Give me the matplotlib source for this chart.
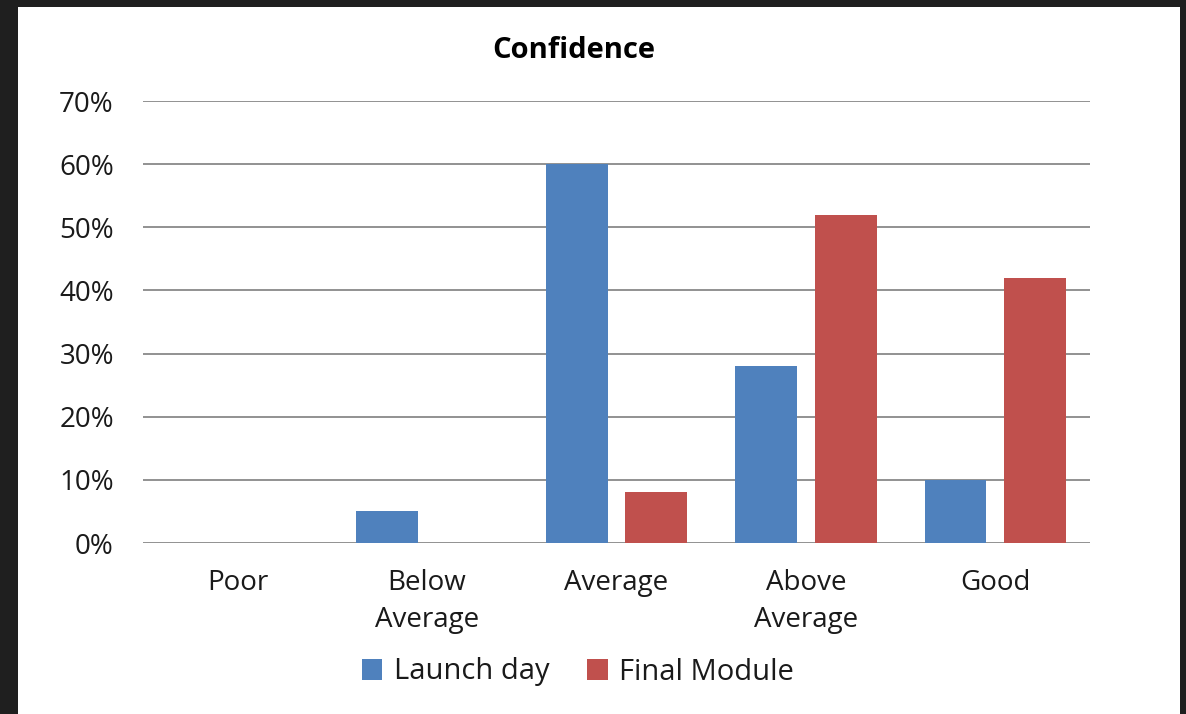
import numpy as np
import matplotlib.pyplot as plt
from matplotlib.patches import Rectangle

categories = ["Poor", "Below\nAverage", "Average", "Above\nAverage", "Good"]
launch_day = [0, 5, 60, 28, 10]
final_module = [0, 0, 8, 52, 42]
yticks = [0, 10, 20, 30, 40, 50, 60, 70]

c_blue = "#4F81BD"
c_red = "#C0504D"
grid_col = "#898989"
txt_col = "#1a1a1a"

plt.rcParams["font.family"] = ["Open Sans", "DejaVu Sans"]

W, H = 1186, 714
fig = plt.figure(figsize=(W / 100, H / 100), dpi=100, facecolor="#1f1f1f")
# white card inside the dark frame
fig.patches.append(Rectangle((18 / W, 0), (1180 - 18) / W, (H - 7) / H,
                             transform=fig.transFigure, facecolor="white",
                             edgecolor="none", zorder=0))

ax = fig.add_axes([143 / W, 1 - 543 / H, (1090 - 143) / W, (543 - 101) / H])
ax.set_zorder(5)
ax.set_facecolor("white")

x = np.arange(len(categories))
bw = 0.327
off = 0.21
ax.bar(x - off, launch_day, bw, color=c_blue, label="Launch day", zorder=3)
ax.bar(x + off, final_module, bw, color=c_red, label="Final Module", zorder=3)

ax.set_xlim(-0.5, len(categories) - 0.5)
ax.set_ylim(0, 70)
ax.set_yticks(yticks)
ax.set_yticklabels([f"{v}%" for v in yticks], fontsize=20, color=txt_col)
ax.set_xticks(x)
ax.set_xticklabels(categories, fontsize=20, color=txt_col, linespacing=1.4)
ax.tick_params(axis="both", length=0)
ax.tick_params(axis="y", pad=21)
ax.tick_params(axis="x", pad=19)
ax.yaxis.grid(True, color=grid_col, linewidth=1.3, zorder=1)
ax.set_axisbelow(True)
for s in ax.spines.values():
    s.set_visible(False)

fig.text(574 / W, 1 - 50 / H, "Confidence", ha="center", va="center",
         fontsize=21, fontweight="bold", color="black")

fig.legend(loc="center", bbox_to_anchor=(578 / W, 1 - 672 / H), ncol=2,
           frameon=False, fontsize=21, handlelength=0.7, handleheight=0.7,
           handletextpad=0.4, columnspacing=1.3, labelcolor=txt_col)

fig.savefig("out.png", dpi=100, facecolor=fig.get_facecolor())
